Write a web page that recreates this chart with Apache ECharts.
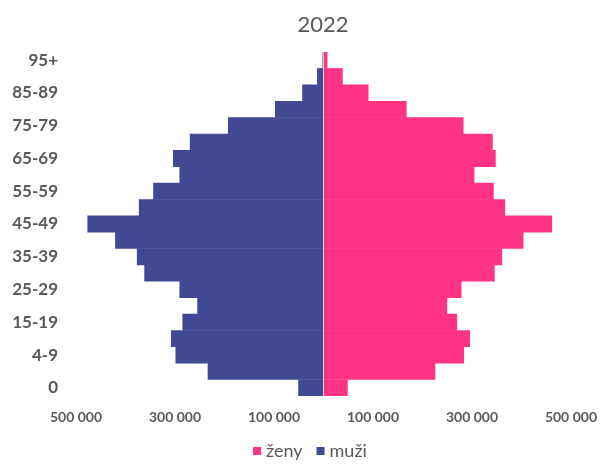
<!DOCTYPE html>
<html><head><meta charset="utf-8">
<script src="https://cdn.jsdelivr.net/npm/echarts@6/dist/echarts.min.js"></script>
<style>html,body{margin:0;padding:0;background:#fff}#c{width:600px;height:466px}</style>
</head><body><div id="c"></div>
<script>
const categories = ['0','1-3','4-9','10-14','15-19','20-24','25-29','30-34','35-39','40-44','45-49','50-54','55-59','60-64','65-69','70-74','75-79','80-84','85-89','90-94','95+'];
const muzi = [51000,234000,299000,308000,285000,255000,291000,362000,377000,421000,477000,373000,344000,291000,304000,270000,193000,98000,43000,13000,2000];
const zeny = [49000,226000,284000,296000,270000,250000,279000,346000,361000,404000,462000,367000,344000,305000,348000,342000,283000,168000,91000,39000,8000];
const xTicks = {min:-500000, max:500000, interval:200000};

const chart = echarts.init(document.getElementById('c'), null, {renderer:'canvas'});
const font = 'Lato, "Open Sans", sans-serif';
const fmt = v => String(Math.abs(v)).replace(/\B(?=(\d{3})+(?!\d))/g, ' ');
chart.setOption({
  animation:false,
  title:{text:'2022', left:318, top:9, textAlign:'center',
    textStyle:{fontFamily:font, fontSize:22, fontWeight:'normal', color:'#595959'}},
  legend:{data:['ženy','muži'], top:442, left:253, padding:0, itemWidth:8, itemHeight:8, itemGap:14,
    icon:'rect', textStyle:{fontFamily:font, fontSize:18, color:'#595959'}},
  grid:{left:76, right:28, top:52, bottom:70, containLabel:false},
  xAxis:{type:'value', min:xTicks.min, max:xTicks.max, interval:xTicks.interval,
    axisLine:{show:false}, axisTick:{show:false}, splitLine:{show:false},
    axisLabel:{formatter:fmt, fontFamily:font, fontSize:14, fontWeight:'bold', color:'#595959', margin:14}},
  yAxis:{type:'category', data:categories, position:'left',
    axisLine:{show:false, onZero:false}, axisTick:{show:false},
    axisLabel:{interval:1, fontFamily:font, fontSize:17, fontWeight:'bold', color:'#595959', margin:18}},
  series:[
    {name:'ženy', type:'bar', stack:'p', data:zeny, barWidth:'103%',
      itemStyle:{color:'#FF3385'}},
    {name:'muži', type:'bar', stack:'p', data:muzi.map(v=>-v), barWidth:'103%',
      itemStyle:{color:'#424993'},
      markLine:{silent:true, symbol:'none', label:{show:false},
        lineStyle:{color:'#d0d0d0', width:1, type:'solid'}, data:[{xAxis:0}]}}
  ]
});
</script></body></html>
